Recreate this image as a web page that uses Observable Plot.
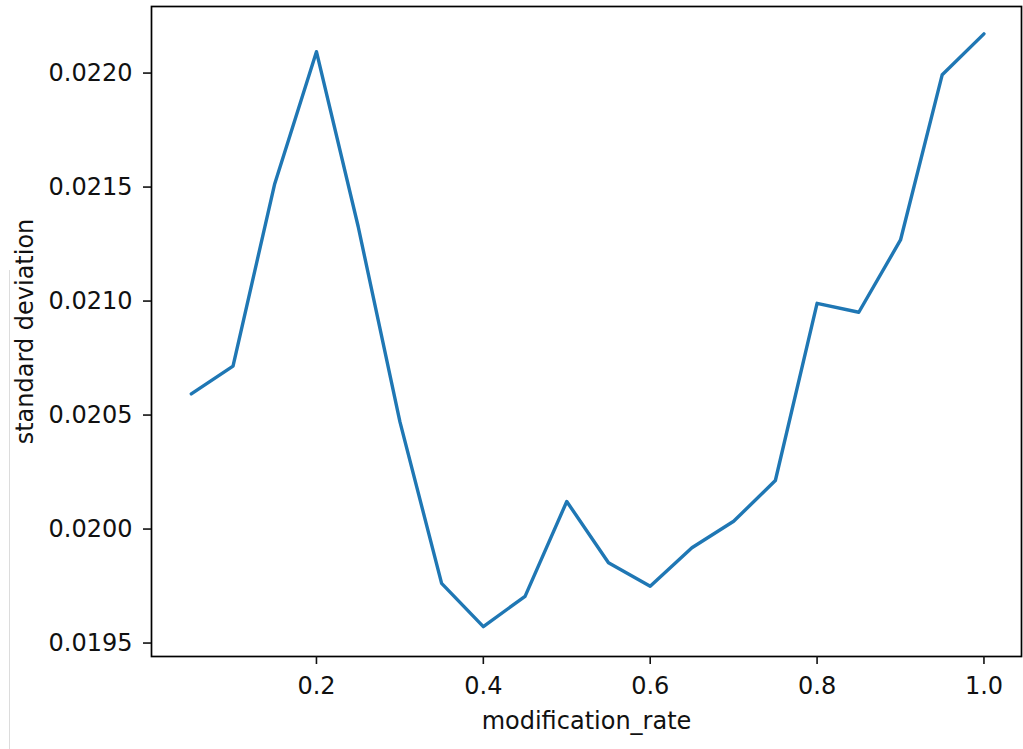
<!DOCTYPE html>
<html>
<head>
<meta charset="utf-8">
<script src="https://cdn.jsdelivr.net/npm/d3@7"></script>
<script src="https://cdn.jsdelivr.net/npm/@observablehq/plot@0.6"></script>
<style>
  html, body { margin: 0; padding: 0; background: #fff; }
  #chart { position: relative; width: 1023px; height: 749px; }
  #edge { position: absolute; left: 9px; top: 270px; width: 1px; height: 479px; background: #dcdcdc; }
</style>
</head>
<body>
<div id="chart"><div id="edge"></div></div>
<script>
// Standard deviation measured at each modification rate
const modificationRate = [0.05, 0.10, 0.15, 0.20, 0.25, 0.30, 0.35, 0.40, 0.45, 0.50,
                          0.55, 0.60, 0.65, 0.70, 0.75, 0.80, 0.85, 0.90, 0.95, 1.00];
const standardDeviation = [0.020593, 0.020715, 0.021515, 0.022094, 0.021327, 0.020471, 0.019762, 0.019572, 0.019705, 0.020121,
                           0.019852, 0.019749, 0.019918, 0.020034, 0.020213, 0.020990, 0.020951, 0.021268, 0.021993, 0.022172];

const xTicks = [0.2, 0.4, 0.6, 0.8, 1.0];
const yTicks = [0.0195, 0.0200, 0.0205, 0.0210, 0.0215, 0.0220];

const rows = modificationRate.map((rate, i) => ({rate, sd: standardDeviation[i]}));

const chart = Plot.plot({
  width: 1023,
  height: 749,
  marginLeft: 151,
  marginRight: 2,
  marginTop: 6,
  marginBottom: 93,
  style: {fontFamily: "'DejaVu Sans', sans-serif", fontSize: "24px", color: "#111", background: "#fff", overflow: "visible"},
  x: {domain: [0.0023, 1.045]},
  y: {domain: [0.019441, 0.022292]},
  marks: [
    Plot.lineY(rows, {x: "rate", y: "sd", stroke: "#1f77b4", strokeWidth: 3.4}),
    Plot.frame({stroke: "#000", strokeWidth: 1.7}),
    Plot.axisX(xTicks, {
      tickSize: 8, tickPadding: 12, strokeWidth: 1.6,
      tickFormat: d3.format(".1f"),
      label: "modification_rate", labelAnchor: "center", labelArrow: "none", labelOffset: 72
    }),
    Plot.axisY(yTicks, {
      tickSize: 8, tickPadding: 11, strokeWidth: 1.6,
      tickFormat: d3.format(".4f"),
      label: "standard deviation", labelAnchor: "center", labelArrow: "none", labelOffset: 136
    })
  ]
});

document.getElementById("chart").appendChild(chart);
</script>
</body>
</html>
